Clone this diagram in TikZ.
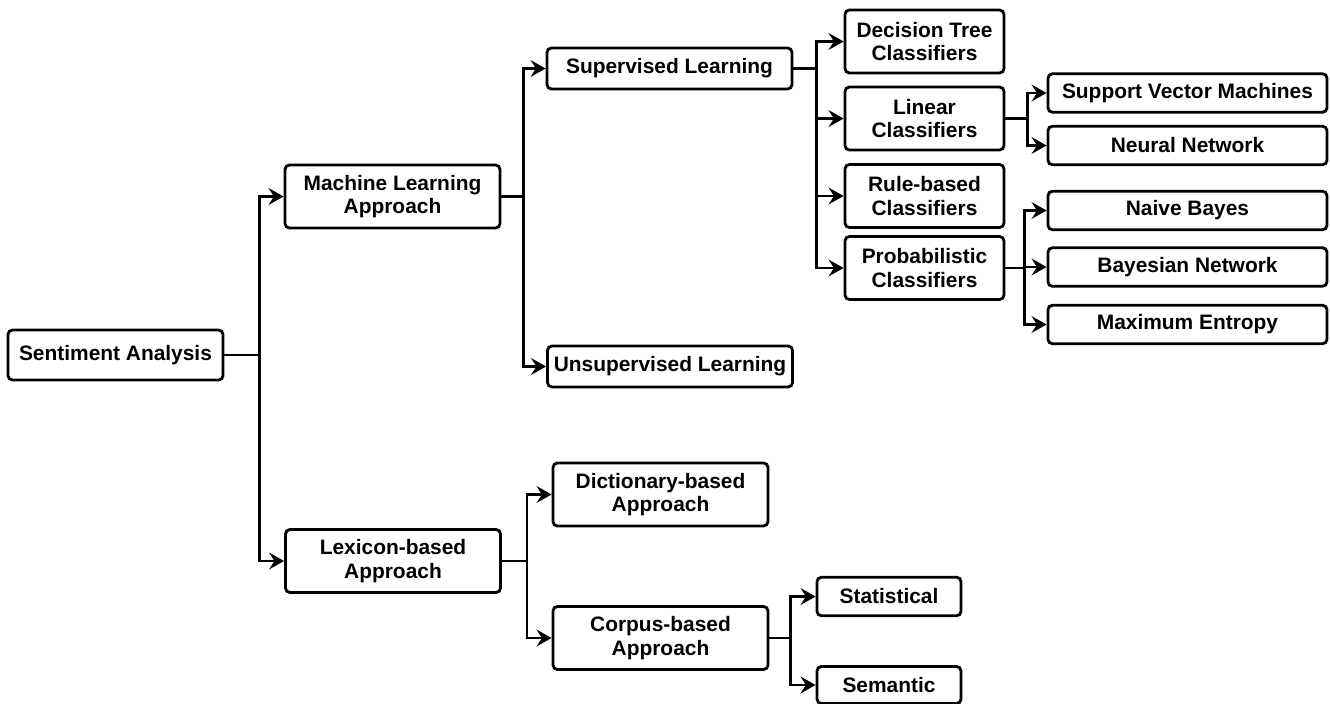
\documentclass[tikz,border=0pt]{standalone}
\usepackage{fontspec}
\setmainfont{Liberation Sans}
\usetikzlibrary{positioning, arrows.meta}

\begin{document}
\begin{tikzpicture}[>={Stealth[length=8.5pt,width=9.5pt,inset=3pt]}, line width=1.6pt,
  box/.style={draw, rounded corners=2.5pt, align=center, inner sep=1pt,
    minimum width=4.3cm, minimum height=1.26cm,
    font=\fontsize{11.9}{13.4}\selectfont\bfseries},
  leaf/.style={box, minimum height=0.77cm}]
\useasboundingbox (0,0) rectangle (26.6,-14.08);

% Koren
\node[box, minimum height=1cm] (sa) at (2.31,-7.10) {Sentiment Analysis};

% Dva pristupy
\node[box] (ml) at (7.85,-3.93) {Machine Learning\\Approach};
\node[box] (lex) at (7.86,-11.22) {Lexicon-based\\Approach};

% Strojove uceni
\node[leaf, minimum width=4.9cm, minimum height=0.82cm] (sup) at (13.39,-1.37) {Supervised Learning};
\node[leaf, minimum width=4.9cm, minimum height=0.82cm] (unsup) at (13.40,-7.33) {Unsupervised Learning};

% Klasifikatory
\node[box, minimum width=3.18cm] (dt) at (18.49,-0.83) {Decision Tree\\Classifiers};
\node[box, minimum width=3.18cm] (lin) at (18.49,-2.37) {Linear\\Classifiers};
\node[box, minimum width=3.18cm] (rule) at (18.49,-3.92) {Rule-based\\Classifiers};
\node[box, minimum width=3.18cm] (prob) at (18.49,-5.36) {Probabilistic\\Classifiers};

% Listy vpravo
\node[leaf, minimum width=5.58cm] (svm) at (23.75,-1.86) {Support Vector Machines};
\node[leaf, minimum width=5.58cm] (nn) at (23.75,-2.91) {Neural Network};
\node[leaf, minimum width=5.58cm] (nb) at (23.75,-4.21) {Naive Bayes};
\node[leaf, minimum width=5.58cm] (bn) at (23.75,-5.34) {Bayesian Network};
\node[leaf, minimum width=5.58cm] (me) at (23.75,-6.49) {Maximum Entropy};

% Lexikalni vetev
\node[box] (dict) at (13.21,-9.89) {Dictionary-based\\Approach};
\node[box] (corp) at (13.21,-12.76) {Corpus-based\\Approach};
\node[leaf, minimum width=2.88cm] (stat) at (17.78,-11.93) {Statistical};
\node[leaf, minimum width=2.88cm, minimum height=0.74cm] (sem) at (17.78,-13.70) {Semantic};

% Spojnice
\draw (sa.east) -- ++(0.7,0) coordinate (j0);
\draw[->] (j0) |- (ml.west);
\draw[->] (j0) |- (lex.west);

\draw (ml.east) -- ++(0.44,0) coordinate (j1);
\draw[->] (j1) |- (sup.west);
\draw[->] (j1) |- (unsup.west);

\draw (sup.east) -- ++(0.46,0) coordinate (j2);
\foreach \n in {dt, lin, rule, prob}
    \draw[->] (j2) |- (\n.west);

\draw (lin.east) -- ++(0.44,0) coordinate (j3);
\draw[->] (j3) |- (svm.west);
\draw[->] (j3) |- (nn.west);

\draw (prob.east) -- ++(0.38,0) coordinate (j4);
\foreach \n in {nb, bn, me}
    \draw[->] (j4) |- (\n.west);

\draw (lex.east) -- ++(0.5,0) coordinate (j5);
\draw[->] (j5) |- (dict.west);
\draw[->] (j5) |- (corp.west);

\draw (corp.east) -- ++(0.42,0) coordinate (j6);
\draw[->] (j6) |- (stat.west);
\draw[->] (j6) |- (sem.west);

\end{tikzpicture}
\end{document}
